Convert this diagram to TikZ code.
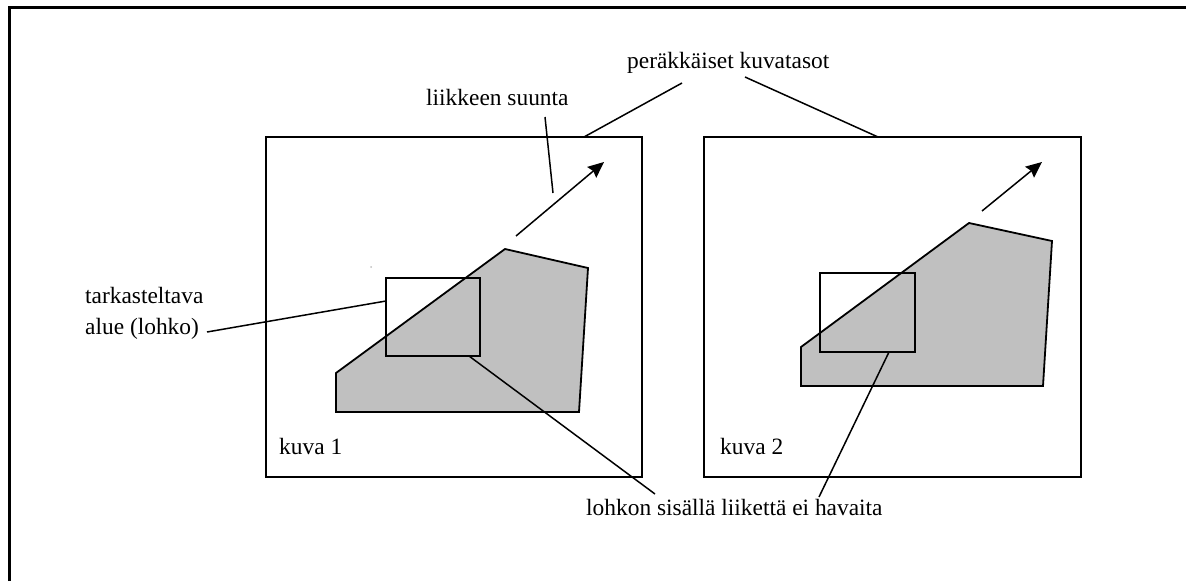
\documentclass[tikz,border=0pt]{standalone}
\usepackage{fontspec}
\setmainfont{Liberation Serif}
\usetikzlibrary{arrows.meta}
\tikzset{
  frame/.style={draw=black, line width=2pt},
  block/.style={draw=black, line width=2pt},
  area/.style={draw=black, fill=areagray, line width=1.8pt, line join=miter},
  leader/.style={draw=black, line width=1.5pt},
  motion/.style={draw=black, line width=1.5pt, -{Stealth[length=16pt,width=14pt,inset=2pt]}},
  lbl/.style={anchor=base west, inner sep=0pt, font=\fontsize{23.4}{28}\selectfont}
}
\definecolor{areagray}{HTML}{C0C0C0}
\begin{document}
\begin{tikzpicture}[x=1pt,y=-1pt]
\useasboundingbox (0,0) rectangle (1186,581);
% outer border (left and top)
\draw[line width=3.2pt] (9.5,581) -- (9.5,7.5) -- (1186,7.5);

% picture frames
\draw[frame] (266,137) rectangle (642,477);
\draw[frame] (704,137) rectangle (1081,477);

% shaded areas
\draw[area] (336,373) -- (505,249) -- (588,268) -- (579,412) -- (336,412) -- cycle;
\draw[area] (801,347) -- (969,223) -- (1052,241) -- (1043,386) -- (801,386) -- cycle;

% blocks
\draw[block] (386,278) rectangle (480,356);
\draw[block] (820,273) rectangle (915,352);

% motion arrows
\coordinate (m1s) at (516,236); \coordinate (m1e) at (604,162);
\coordinate (m2s) at (982,211); \coordinate (m2e) at (1042,162);
\draw[motion] (m1s) -- (m1e);
\draw[motion] (m2s) -- (m2e);

% stray dot
\fill[black!25] (371,267) circle (1pt);

% labels
\node[lbl] (taso) at (627,68) {peräkkäiset kuvatasot};
\node[lbl] (suunta) at (426,105) {liikkeen suunta};
\node[lbl] (tark) at (85,303) {tarkasteltava};
\node[lbl] (alue) at (85,334) {alue (lohko)};
\node[lbl] (kuva1) at (279,454) {kuva 1};
\node[lbl] (kuva2) at (720,454) {kuva 2};
\node[lbl] (havaita) at (586,515) {lohkon sisällä liikettä ei havaita};

% leader end points
\coordinate (t1) at (682,83);  \coordinate (f1) at (584,137);
\coordinate (t2) at (745,77);  \coordinate (f2) at (878,137);
\coordinate (s1) at (545,117); \coordinate (s2) at (553,193);
\coordinate (a1) at (207,332); \coordinate (b1) at (386,301);
\coordinate (h1) at (655,494); \coordinate (b1b) at (469,356);
\coordinate (h2) at (819,497); \coordinate (b2b) at (889,352);

\draw[leader] (t1) -- (f1);
\draw[leader] (t2) -- (f2);
\draw[leader] (s1) -- (s2);
\draw[leader] (a1) -- (b1);
\draw[leader] (b1b) -- (h1);
\draw[leader] (b2b) -- (h2);
\end{tikzpicture}
\end{document}
